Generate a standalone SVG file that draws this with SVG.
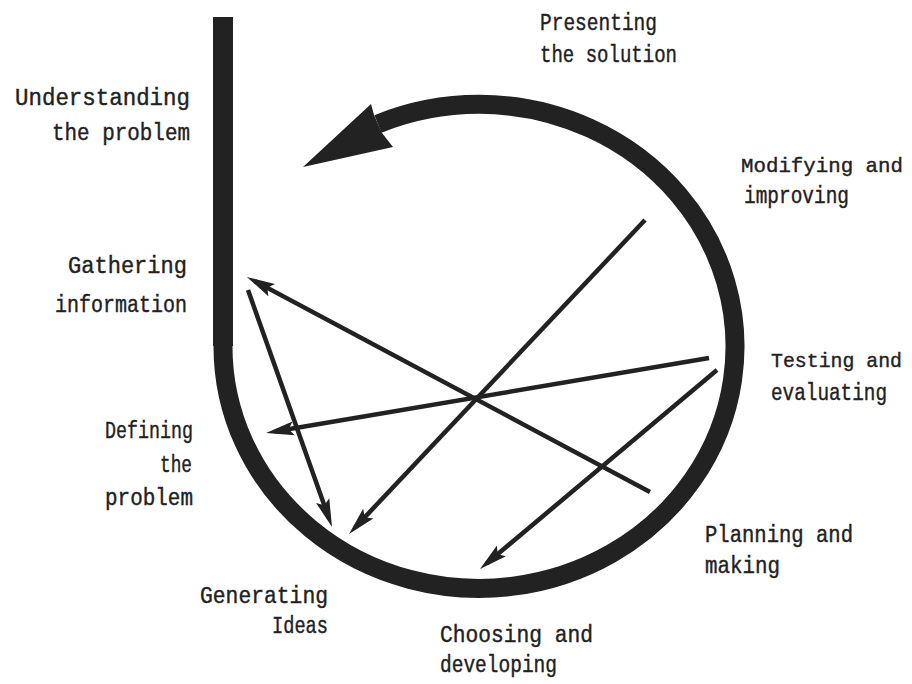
<svg xmlns="http://www.w3.org/2000/svg" width="912" height="684" viewBox="0 0 912 684">
<style>
.lbl{font-family:"Liberation Mono","DejaVu Sans Mono",monospace;font-size:23px;fill:#222;stroke:#222;stroke-width:0.4}
.sm{font-size:21px}
.ring{fill:none;stroke:#222;stroke-width:19}
.conn{fill:none;stroke:#222;stroke-width:4.5;stroke-linecap:butt;marker-end:url(#ah)}
</style>
<defs>
<marker id="ah" markerUnits="userSpaceOnUse" markerWidth="40" markerHeight="20" viewBox="0 0 40 20" refX="21" refY="10" orient="auto" overflow="visible">
<path d="M30,10 L2,3 L7,10 L2,17 Z" fill="#222"/>
</marker>
</defs>
<rect width="912" height="684" fill="#fff"/>
<g id="cycle">
<line x1="223" y1="17" x2="223" y2="346" stroke="#222" stroke-width="20"/>
<path class="ring" d="M223,346 A256,242 0 1 0 378,124"/>
<path d="M303,167 L371,104 L374,115 L382,133 L393,147 Z" fill="#222"/>
</g>
<g id="connectors">
<line class="conn" x1="645" y1="220" x2="355.2" y2="527.4"/>
<line class="conn" x1="709" y1="358" x2="274.9" y2="431.5"/>
<line class="conn" x1="717" y1="370" x2="486.9" y2="563.2"/>
<line class="conn" x1="650" y1="492" x2="254.9" y2="281.2"/>
<line class="conn" x1="248" y1="290" x2="329" y2="518.5"/>
</g>
<g id="presenting"><text class="lbl" x="540" y="30" textLength="117" lengthAdjust="spacingAndGlyphs">Presenting</text><text class="lbl" x="540" y="62" textLength="137" lengthAdjust="spacingAndGlyphs">the solution</text></g>
<g id="understanding"><text class="lbl" x="15" y="105" textLength="175" lengthAdjust="spacingAndGlyphs">Understanding</text><text class="lbl" x="52" y="140" textLength="138" lengthAdjust="spacingAndGlyphs">the problem</text></g>
<g id="modifying"><text class="lbl sm" x="741" y="172" textLength="162" lengthAdjust="spacingAndGlyphs">Modifying and</text><text class="lbl" x="744" y="203" textLength="105" lengthAdjust="spacingAndGlyphs">improving</text></g>
<g id="gathering"><text class="lbl" x="68" y="273" textLength="119" lengthAdjust="spacingAndGlyphs">Gathering</text><text class="lbl" x="55" y="312" textLength="132" lengthAdjust="spacingAndGlyphs">information</text></g>
<g id="testing"><text class="lbl sm" x="771" y="367" textLength="131" lengthAdjust="spacingAndGlyphs">Testing and</text><text class="lbl" x="771" y="400" textLength="116" lengthAdjust="spacingAndGlyphs">evaluating</text></g>
<g id="defining"><text class="lbl" x="105" y="438" textLength="88" lengthAdjust="spacingAndGlyphs">Defining</text><text class="lbl" x="160" y="472" textLength="32" lengthAdjust="spacingAndGlyphs">the</text><text class="lbl" x="105" y="505" textLength="88" lengthAdjust="spacingAndGlyphs">problem</text></g>
<g id="generating"><text class="lbl" x="200" y="603" textLength="128" lengthAdjust="spacingAndGlyphs">Generating</text><text class="lbl" x="272" y="633" textLength="56" lengthAdjust="spacingAndGlyphs">Ideas</text></g>
<g id="planning"><text class="lbl" x="705" y="542" textLength="148" lengthAdjust="spacingAndGlyphs">Planning and</text><text class="lbl" x="705" y="573" textLength="75" lengthAdjust="spacingAndGlyphs">making</text></g>
<g id="choosing"><text class="lbl" x="440" y="642" textLength="153" lengthAdjust="spacingAndGlyphs">Choosing and</text><text class="lbl" x="440" y="672" textLength="117" lengthAdjust="spacingAndGlyphs">developing</text></g>
</svg>
